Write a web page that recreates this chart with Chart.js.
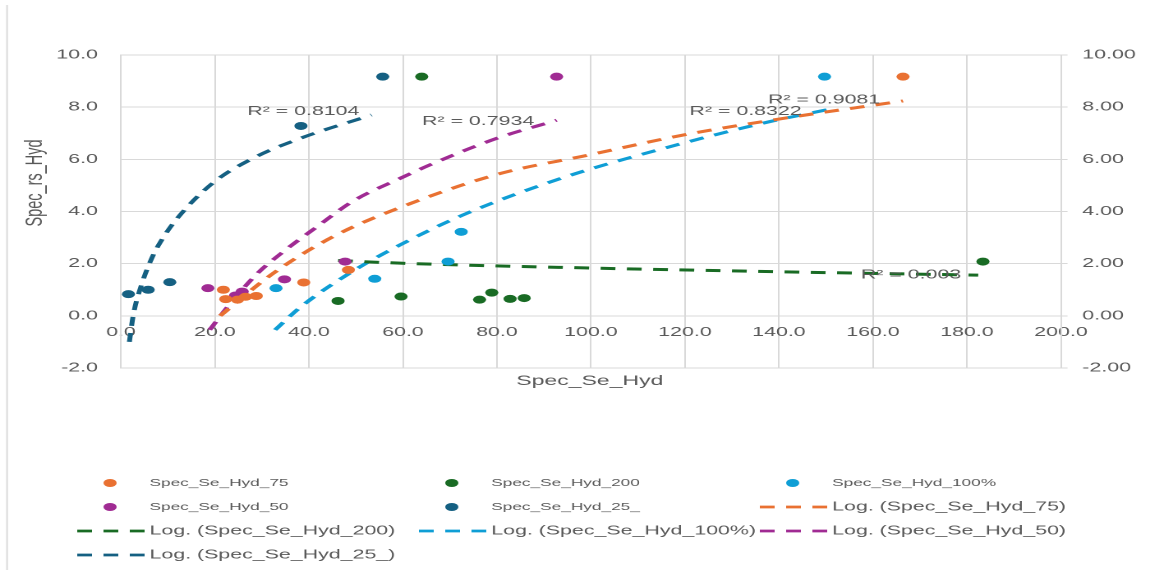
<!DOCTYPE html>
<html>
<head>
<meta charset="utf-8">
<script src="https://cdn.jsdelivr.net/npm/chart.js@4.4.1/dist/chart.umd.min.js"></script>
<style>
html, body { margin: 0; padding: 0; background: #fff; overflow: hidden; }
/* the original picture is stretched sideways, so draw narrow and stretch */
#wrap { position: absolute; left: 0; top: 0; width: 700px; height: 575px; transform: scaleX(1.642857); transform-origin: 0 0; }
</style>
</head>
<body>
<div id="wrap"><canvas id="myChart"></canvas></div>
<script>
// Series names and colours
var seriesNames = ['Spec_Se_Hyd_75', 'Spec_Se_Hyd_200', 'Spec_Se_Hyd_100%', 'Spec_Se_Hyd_50', 'Spec_Se_Hyd_25_'];
var seriesColors = ['#E97132', '#196B24', '#0F9ED5', '#A02B93', '#156082'];

// Measured points (x = Spec_Se_Hyd, y = Spec_rs_Hyd)
var hyd75X = [21.8, 22.3, 24.8, 26.5, 28.8, 38.9, 48.4, 166.4];
var hyd75Y = [1.0, 0.64, 0.62, 0.73, 0.76, 1.28, 1.76, 9.17];
var hyd200X = [46.2, 59.6, 64.0, 76.3, 78.9, 82.8, 85.8, 183.4];
var hyd200Y = [0.57, 0.74, 9.17, 0.62, 0.89, 0.65, 0.68, 2.08];
var hyd100X = [33.0, 54.0, 69.6, 72.4, 149.7];
var hyd100Y = [1.06, 1.42, 2.08, 3.22, 9.17];
var hyd50X = [18.5, 24.4, 25.8, 34.8, 47.7, 92.7];
var hyd50Y = [1.06, 0.78, 0.93, 1.4, 2.08, 9.17];
var hyd25X = [1.6, 5.8, 10.4, 38.3, 55.7];
var hyd25Y = [0.83, 1.0, 1.29, 7.28, 9.17];

// Log trend lines
var trend75X = [21.1, 32.4, 45.2, 61.5, 80.6, 99.1, 119.6, 139.5, 166.4];
var trend75Y = [0.0, 1.63, 3.04, 4.3, 5.45, 6.15, 6.93, 7.53, 8.24];
var trend200X = [46.2, 59.4, 100.5, 140.0, 182.4];
var trend200Y = [2.12, 2.02, 1.83, 1.69, 1.56];
var trend100X = [32.8, 38.1, 48.7, 59.4, 73.6, 94.8, 116.1, 137.4, 150.2];
var trend100Y = [-0.54, 0.32, 1.64, 2.72, 3.93, 5.34, 6.45, 7.42, 7.9];
var trend50X = [18.9, 22.5, 28.9, 35.2, 41.6, 49.4, 59.4, 67.2, 79.9, 92.7];
var trend50Y = [-0.54, 0.3, 1.6, 2.55, 3.4, 4.4, 5.27, 5.9, 6.8, 7.5];
var trend25X = [1.8, 2.6, 4.4, 6.8, 9.0, 11.8, 19.6, 28.2, 38.1, 53.3];
var trend25Y = [-1.0, 0.0, 1.2, 2.3, 3.0, 3.7, 5.1, 6.05, 6.8, 7.7];

// R squared labels (text and where they sit, in data units)
var rLabels = ['R² = 0.9081', 'R² = 0.003', 'R² = 0.8322', 'R² = 0.7934', 'R² = 0.8104'];
var rLabelX = [149.6, 168.1, 132.9, 76.0, 38.8];
var rLabelY = [8.28, 1.57, 7.83, 7.45, 7.83];

// Axis ranges
var xMin = 0, xMax = 200, xStep = 20;
var yMin = -2, yMax = 10, yStep = 2;

function toPoints(xs, ys) {
    return xs.map(function(x, i) { return {x: x, y: ys[i]}; });
}

var pointSets = [[hyd75X, hyd75Y], [hyd200X, hyd200Y], [hyd100X, hyd100Y], [hyd50X, hyd50Y], [hyd25X, hyd25Y]];
var trendSets = [[trend75X, trend75Y], [trend200X, trend200Y], [trend100X, trend100Y], [trend50X, trend50Y], [trend25X, trend25Y]];

var datasets = [];
pointSets.forEach(function(s, i) {
    datasets.push({
        label: seriesNames[i],
        data: toPoints(s[0], s[1]),
        backgroundColor: seriesColors[i],
        borderColor: seriesColors[i],
        pointRadius: 4,
        pointBorderWidth: 0,
        showLine: false
    });
});
trendSets.forEach(function(s, i) {
    datasets.push({
        label: 'Log. (' + seriesNames[i] + ')',
        data: toPoints(s[0], s[1]),
        borderColor: seriesColors[i],
        borderWidth: 3,
        borderDash: [9, 7],
        pointRadius: 0,
        showLine: true,
        fill: false,
        cubicInterpolationMode: 'monotone'
    });
});

var textGray = '#595959';
var gridGray = '#d9d9d9';

// Titles, R² labels, legend and frame
var extras = {
    id: 'extras',
    afterDatasetsDraw: function(chart) {
        var ctx = chart.ctx;
        var xs = chart.scales.x, ys = chart.scales.y;
        ctx.save();
        ctx.font = '13px "Liberation Sans"';
        ctx.fillStyle = textGray;
        ctx.textAlign = 'center';
        ctx.textBaseline = 'middle';
        rLabels.forEach(function(t, i) {
            ctx.fillText(t, xs.getPixelForValue(rLabelX[i]), ys.getPixelForValue(rLabelY[i]));
        });
        ctx.restore();
    },
    afterDraw: function(chart) {
        var ctx = chart.ctx;
        ctx.save();

        // left frame line
        ctx.strokeStyle = gridGray;
        ctx.lineWidth = 1;
        ctx.beginPath();
        ctx.moveTo(4.3, 5);
        ctx.lineTo(4.3, 570);
        ctx.stroke();

        // axis titles
        ctx.fillStyle = textGray;
        ctx.textAlign = 'center';
        ctx.textBaseline = 'middle';
        ctx.font = '14px "Liberation Sans"';
        ctx.fillText('Spec_Se_Hyd', 359, 381);
        ctx.save();
        ctx.translate(21.3, 183);
        ctx.rotate(-Math.PI / 2);
        ctx.font = '14.5px "Liberation Sans"';
        ctx.fillText('Spec_rs_Hyd', 0, 0);
        ctx.restore();

        // legend, three columns
        var colX = [47, 255, 462.5];
        var rowY = [483, 507, 531, 555];
        ctx.textAlign = 'left';
        chart.data.datasets.forEach(function(ds, i) {
            var sx = colX[i % 3];
            var cy = rowY[Math.floor(i / 3)];
            if (ds.showLine) {
                ctx.save();
                ctx.strokeStyle = ds.borderColor;
                ctx.lineWidth = 2.75;
                ctx.setLineDash([9, 7]);
                ctx.beginPath();
                ctx.moveTo(sx, cy);
                ctx.lineTo(sx + 41, cy);
                ctx.stroke();
                ctx.restore();
                ctx.font = '13px "Liberation Sans"';
            } else {
                ctx.fillStyle = ds.backgroundColor;
                ctx.beginPath();
                ctx.arc(sx + 20, cy, 4, 0, Math.PI * 2);
                ctx.fill();
                ctx.font = '10.5px "Liberation Sans"';
            }
            ctx.fillStyle = textGray;
            ctx.fillText(ds.label, sx + 44, cy);
        });

        ctx.restore();
    }
};

var tickFont = {family: '"Liberation Sans"', size: 13};

var ctx = document.getElementById('myChart').getContext('2d');
var myChart = new Chart(ctx, {
    type: 'scatter',
    data: { datasets: datasets },
    plugins: [extras],
    options: {
        responsive: true,
        maintainAspectRatio: false,
        animation: false,
        devicePixelRatio: 2,
        layout: { padding: { top: 55, left: 0, right: 0, bottom: 0 } },
        plugins: {
            legend: { display: false },
            tooltip: { enabled: false }
        },
        scales: {
            x: {
                type: 'linear', position: 'bottom', min: xMin, max: xMax,
                ticks: { display: false, stepSize: xStep },
                grid: { color: gridGray, drawTicks: false },
                border: { color: gridGray },
                afterFit: function(s) { s.height = 207; }
            },
            x2: {
                type: 'linear', position: { y: 0 }, min: xMin, max: xMax,
                ticks: {
                    stepSize: xStep, padding: 9, color: textGray, font: tickFont, maxRotation: 0,
                    callback: function(v) { return v.toFixed(1); }
                },
                grid: { display: false, drawTicks: false },
                border: { display: false }
            },
            y: {
                type: 'linear', position: 'left', min: yMin, max: yMax,
                ticks: {
                    stepSize: yStep, padding: 14, color: textGray, font: tickFont,
                    callback: function(v) { return v.toFixed(1); }
                },
                grid: { color: gridGray, drawTicks: false },
                border: { color: gridGray },
                afterFit: function(s) { s.width = 73.6; }
            },
            y2: {
                type: 'linear', position: 'right', min: yMin, max: yMax,
                ticks: {
                    stepSize: yStep, padding: 9, color: textGray, font: tickFont,
                    callback: function(v) { return v.toFixed(2); }
                },
                grid: { drawOnChartArea: false, drawTicks: true, tickLength: 4, color: gridGray },
                border: { color: gridGray },
                afterFit: function(s) { s.width = 54.2; }
            }
        }
    }
});
</script>
</body>
</html>
